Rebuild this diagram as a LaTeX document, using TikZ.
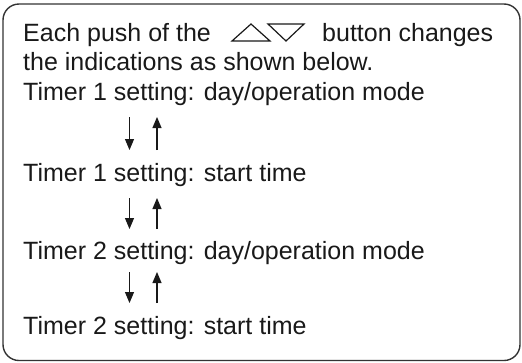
\documentclass[tikz,border=0pt]{standalone}
\usepackage{fontspec}
\setmainfont{Liberation Sans}
\usetikzlibrary{arrows.meta,positioning}
\tikzset{
    panel/.style = {draw=black!80, line width=1.4pt, rounded corners=16pt},
    txt/.style   = {anchor=base west, inner sep=0pt, text=black!90, font=\fontsize{25}{29.5}\selectfont},
    key/.style   = {draw=black!90, line width=1.2pt, line join=miter},
    flow/.style  = {-{Triangle[length=11pt,width=9pt]}, line width=1.2pt, draw=black!90}
}

\begin{document}
\begin{tikzpicture}[x=1pt, y=-1pt]
        \useasboundingbox (0,0) rectangle (522,362);

        % Frame
        \draw[panel] (3,4) rectangle (520,360.5);

        % Intro with the up/down keys
        \node[txt] (intro) at (23,41) {Each push of the};
        \draw[key] (232,41) -- (251,24) -- (270,41) -- cycle;
        \draw[key] (268,24) -- (304,24) -- (286,41) -- cycle;
        \node[txt] (btn) at (322,41) {button changes};
        \node[txt] (intro2) at (23,70.5) {the indications as shown below.};

        % Indications
        \node[txt] (t1) at (23,100.5) {Timer 1 setting: day/operation mode};
        \node[txt] (t2) at (23,181.5) {Timer 1 setting: start time};
        \node[txt] (t3) at (23,259.5) {Timer 2 setting: day/operation mode};
        \node[txt] (t4) at (23,334) {Timer 2 setting: start time};

        % Arrow ends
        \coordinate (dn1) at (129.5,117); \coordinate (dn1e) at (129.5,150);
        \coordinate (up1) at (157,150);   \coordinate (up1e) at (157,117);
        \coordinate (dn2) at (129.5,198); \coordinate (dn2e) at (129.5,229);
        \coordinate (up2) at (157,229);   \coordinate (up2e) at (157,198);
        \coordinate (dn3) at (129.5,272); \coordinate (dn3e) at (129.5,303);
        \coordinate (up3) at (157,303);   \coordinate (up3e) at (157,272);

        % Down / up arrows
        \draw[flow] (dn1) -- (dn1e);
        \draw[flow] (up1) -- (up1e);
        \draw[flow] (dn2) -- (dn2e);
        \draw[flow] (up2) -- (up2e);
        \draw[flow] (dn3) -- (dn3e);
        \draw[flow] (up3) -- (up3e);

    \end{tikzpicture}
\end{document}
